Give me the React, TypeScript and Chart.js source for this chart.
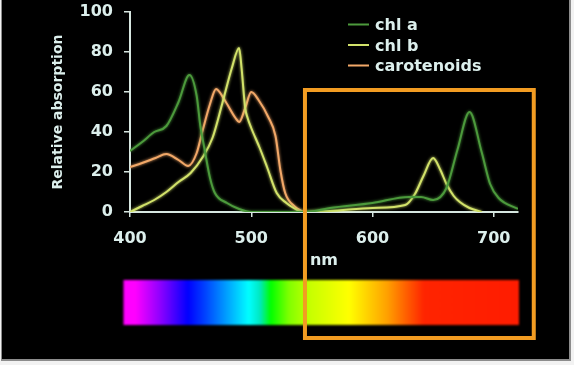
import React, { useEffect, useRef } from 'react';
import { Chart, registerables } from 'chart.js';

Chart.register(...registerables);

// ---- data ----
const seriesLabels = ['chl a', 'chl b', 'carotenoids'];

const chlAWavelengths = [400, 410, 420, 430, 440, 449, 455, 458, 461, 466, 470, 480, 490, 500, 545, 565, 600, 630, 640, 650, 661, 670, 680, 690, 697, 704, 720];
const chlAValues = [30.5, 35, 40, 43, 55, 68.5, 58, 43, 33, 17, 9.5, 4.5, 1.5, 0, 0, 2, 4.5, 7.5, 7.5, 6, 12, 31, 50, 30, 14, 7, 1.5];

const chlBWavelengths = [400, 410, 420, 430, 440, 450, 460, 468, 476, 484, 490, 492, 495, 497, 500, 507, 513, 521, 529, 535, 542, 565, 600, 627, 635, 642, 650, 656, 661, 667, 672, 680, 690];
const chlBValues = [0, 3, 6, 10, 15, 19.5, 27.5, 37, 54, 72, 82, 72, 52, 47, 42, 32, 22.5, 9.5, 4.5, 2, 0, 0.5, 2, 3.5, 9, 18, 27, 21, 14, 8, 5, 2, 0];

const carWavelengths = [400, 410, 421, 430, 440, 448, 455, 460, 466, 471, 478, 487, 490, 495, 500, 506, 514, 520, 524, 528, 536, 543];
const carValues = [22.5, 24.5, 27, 29, 26, 23, 29.5, 41, 54, 61.5, 56, 47, 45, 52, 60, 56, 47.5, 38, 21, 9.5, 2.7, 0];

const xTicks = [400, 500, 600, 700];
const yTicks = [0, 20, 40, 60, 80, 100];
const xAxisTitle = 'nm';
const yAxisTitle = 'Relative absorption';

// ---- styles ----
const FONT = 'DejaVu Sans';
const TEXT = '#dcefec';
const AXIS = '#d6e6e0';
const COLORS = ['#4c9a3c', '#d2e26a', '#f2a868'];
const ORANGE = '#f29c22';

const spectrumStops: [number, string][] = [
  [0, '#ff00ff'],
  [0.03, '#ff00ff'],
  [0.095, '#8a00ff'],
  [0.163, '#0000ff'],
  [0.205, '#0040ff'],
  [0.317, '#00ffff'],
  [0.345, '#00e8c0'],
  [0.372, '#00ff00'],
  [0.418, '#80ff00'],
  [0.473, '#c8ff00'],
  [0.57, '#ffff00'],
  [0.667, '#ffa000'],
  [0.714, '#ff6000'],
  [0.76, '#ff2400'],
  [1, '#ff1c00'],
];

function toPoints(xs: number[], ys: number[]) {
  return xs.map((x, i) => ({ x, y: ys[i] }));
}

const decorPlugin = {
  id: 'decor',
  beforeDraw(chart: any) {
    const { ctx, width, height } = chart;
    ctx.save();
    ctx.fillStyle = '#f2f2f2';
    ctx.fillRect(0, 0, width, height);
    ctx.fillStyle = '#8c8c8c';
    ctx.fillRect(1, 0, 570, 361);
    ctx.fillStyle = '#000000';
    ctx.fillRect(2, 0, 567, 359);
    ctx.restore();
  },
  beforeDatasetDraw(chart: any, args: any) {
    const ctx = chart.ctx;
    ctx.save();
    ctx.shadowColor = COLORS[args.index];
    ctx.shadowBlur = 3;
  },
  afterDatasetDraw(chart: any) {
    chart.ctx.restore();
  },
  afterDraw(chart: any) {
    const { ctx, chartArea } = chart;
    const xs = chart.scales.x;
    const ys = chart.scales.y;
    ctx.save();
    // spectrum bar
    const bl = chartArea.left - 6.5;
    const br = chartArea.right + 1;
    const g = ctx.createLinearGradient(bl, 0, br, 0);
    spectrumStops.forEach(([o, c]) => g.addColorStop(o, c));
    ctx.filter = 'blur(0.8px)';
    ctx.fillStyle = g;
    ctx.fillRect(bl, 280, br - bl, 45);
    ctx.filter = 'none';

    // legend
    ctx.font = `bold 16px "${FONT}"`;
    ctx.textBaseline = 'alphabetic';
    ctx.textAlign = 'left';
    chart.data.datasets.forEach((ds: any, i: number) => {
      const base = 30 + i * 20.5;
      ctx.strokeStyle = ds.borderColor;
      ctx.lineWidth = 2;
      ctx.beginPath();
      ctx.moveTo(348, base - 5.5);
      ctx.lineTo(369, base - 5.5);
      ctx.stroke();
      ctx.fillStyle = TEXT;
      ctx.fillText(ds.label, 375, base);
    });

    // highlight box
    const left = xs.getPixelForValue(544.3);
    const right = xs.getPixelForValue(733);
    const top = ys.getPixelForValue(61);
    ctx.strokeStyle = ORANGE;
    ctx.lineWidth = 4;
    ctx.strokeRect(left, top, right - left, 338 - top);
    ctx.restore();
  },
};

export default function App() {
  const ref = useRef<HTMLCanvasElement>(null);
  useEffect(() => {
    document.body.style.margin = '0';
    const canvas = ref.current!;
    const tickFont = (size: number) => ({ family: FONT, size, weight: 'bold' as const });
    const chart = new Chart(canvas, {
      type: 'line',
      data: {
        datasets: [
          { label: seriesLabels[0], data: toPoints(chlAWavelengths, chlAValues) },
          { label: seriesLabels[1], data: toPoints(chlBWavelengths, chlBValues) },
          { label: seriesLabels[2], data: toPoints(carWavelengths, carValues) },
        ].map((d, i) => ({
          ...d,
          borderColor: COLORS[i],
          backgroundColor: COLORS[i],
          borderWidth: 2,
          pointRadius: 0,
          fill: false,
          cubicInterpolationMode: 'monotone' as const,
        })),
      },
      options: {
        responsive: false,
        animation: false,
        devicePixelRatio: 1,
        layout: { padding: { left: 40, top: 12, right: 56, bottom: 0 } },
        plugins: { legend: { display: false }, tooltip: { enabled: false } },
        scales: {
          x: {
            type: 'linear',
            min: 400,
            max: 720,
            afterBuildTicks: (s: any) => {
              s.ticks = xTicks.map((v) => ({ value: v }));
            },
            afterFit: (s: any) => {
              s.height = 153;
              s.paddingLeft = 0;
              s.paddingRight = 0;
            },
            ticks: { color: TEXT, font: tickFont(16), padding: 12, maxRotation: 0, autoSkip: false },
            grid: { display: true, drawOnChartArea: false, drawTicks: true, tickLength: 5, color: AXIS, lineWidth: 1.5 },
            border: { display: true, color: AXIS, width: 2 },
            title: { display: true, text: xAxisTitle, color: TEXT, font: tickFont(16), padding: { top: 0, bottom: 95 } },
          },
          y: {
            type: 'linear',
            min: 0,
            max: 100,
            afterBuildTicks: (s: any) => {
              s.ticks = yTicks.map((v) => ({ value: v }));
            },
            afterFit: (s: any) => {
              s.width = 90;
              s.paddingTop = 0;
              s.paddingBottom = 0;
            },
            ticks: { color: TEXT, font: tickFont(16), padding: 11 },
            grid: { display: true, drawOnChartArea: false, drawTicks: true, tickLength: 6, color: AXIS, lineWidth: 1.5 },
            border: { display: true, color: AXIS, width: 2 },
            title: { display: true, text: yAxisTitle, color: TEXT, font: tickFont(14), padding: { top: 10, bottom: 0 } },
          },
        },
      },
      plugins: [decorPlugin],
    });
    return () => chart.destroy();
  }, []);
  return (
    <div style={{ position: 'absolute', left: 0, top: 0, width: 574, height: 365 }}>
      <canvas ref={ref} width={574} height={365} style={{ display: 'block', width: 574, height: 365 }} />
    </div>
  );
}
